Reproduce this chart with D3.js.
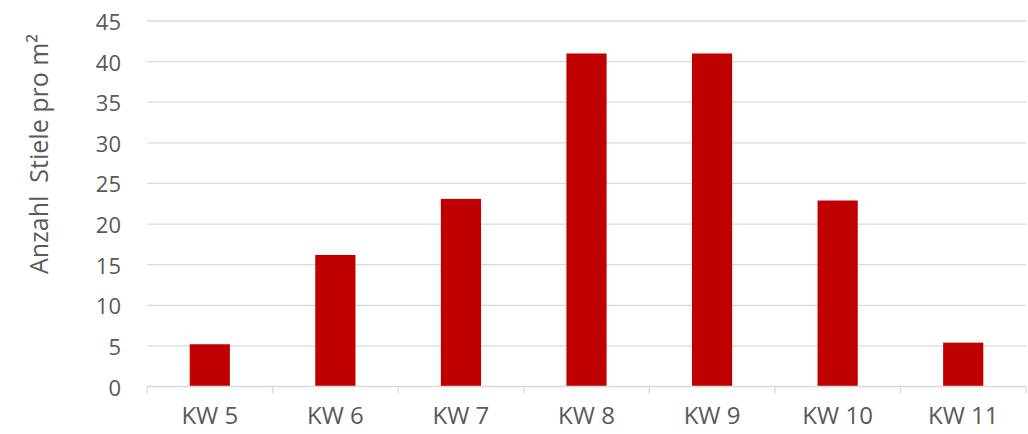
<!DOCTYPE html>
<html><head><meta charset="utf-8">
<script src="https://cdn.jsdelivr.net/npm/d3@7"></script>
<style>body{margin:0;background:#fff}svg{display:block}</style>
</head><body>
<svg id="c" width="1028" height="434"></svg>
<script>
const categories = ["KW 5","KW 6","KW 7","KW 8","KW 9","KW 10","KW 11"];
const values = [5.2, 16.2, 23.1, 41.0, 41.0, 22.9, 5.4];
const yTicks = [0,5,10,15,20,25,30,35,40,45];
const yTitle = "Anzahl  Stiele pro m²";

const svg = d3.select("#c");
const mLeft = 147, mRight = 1026, mTop = 21, mBottom = 386.5;
const x = d3.scaleBand().domain(categories).range([mLeft, mRight]).padding(0);
const y = d3.scaleLinear().domain([0,45]).range([mBottom, mTop]);
const font = "'Open Sans', 'Liberation Sans', sans-serif";
const txt = "#595959";

// gridlines
svg.append("g").selectAll("line").data(yTicks.filter(d=>d>0)).join("line")
  .attr("x1", mLeft).attr("x2", mRight)
  .attr("y1", d=>y(d)).attr("y2", d=>y(d))
  .attr("stroke", "#d9d9d9").attr("stroke-width", 1.3);

// bars
const bw = x.bandwidth()*0.32;
svg.append("g").selectAll("rect").data(values).join("rect")
  .attr("x", (d,i)=>x(categories[i]) + x.bandwidth()/2 - bw/2)
  .attr("width", bw)
  .attr("y", d=>y(d))
  .attr("height", d=>y(0)-y(d))
  .attr("fill", "#c00000");

// x axis
const xa = svg.append("g");
xa.append("line").attr("x1", mLeft).attr("x2", mRight).attr("y1", y(0)).attr("y2", y(0))
  .attr("stroke", "#d9d9d9").attr("stroke-width", 1.3);
const bounds = categories.map(c=>x(c)).concat([mRight]);
xa.selectAll("line.t").data(bounds).join("line").attr("class","t")
  .attr("x1", d=>d).attr("x2", d=>d).attr("y1", y(0)).attr("y2", y(0)+7)
  .attr("stroke", "#d9d9d9").attr("stroke-width", 1.3);
xa.selectAll("text").data(categories).join("text")
  .attr("x", d=>x(d)+x.bandwidth()/2).attr("y", 414)
  .attr("text-anchor","middle").attr("dominant-baseline","central")
  .attr("font-family", font).attr("font-size", 24).attr("fill", txt)
  .text(d=>d);

// y labels
svg.append("g").selectAll("text").data(yTicks).join("text")
  .attr("x", 121).attr("y", d=>y(d))
  .attr("text-anchor","end").attr("dominant-baseline","central")
  .attr("font-family", font).attr("font-size", 22).attr("fill", txt)
  .text(d=>d);

// y title
svg.append("text")
  .attr("transform", "translate(38,154) rotate(-90)")
  .attr("text-anchor","middle").attr("dominant-baseline","central")
  .attr("font-family", font).attr("font-size", 25).attr("fill", txt)
  .style("white-space","pre")
  .text(yTitle);
</script>
</body></html>
